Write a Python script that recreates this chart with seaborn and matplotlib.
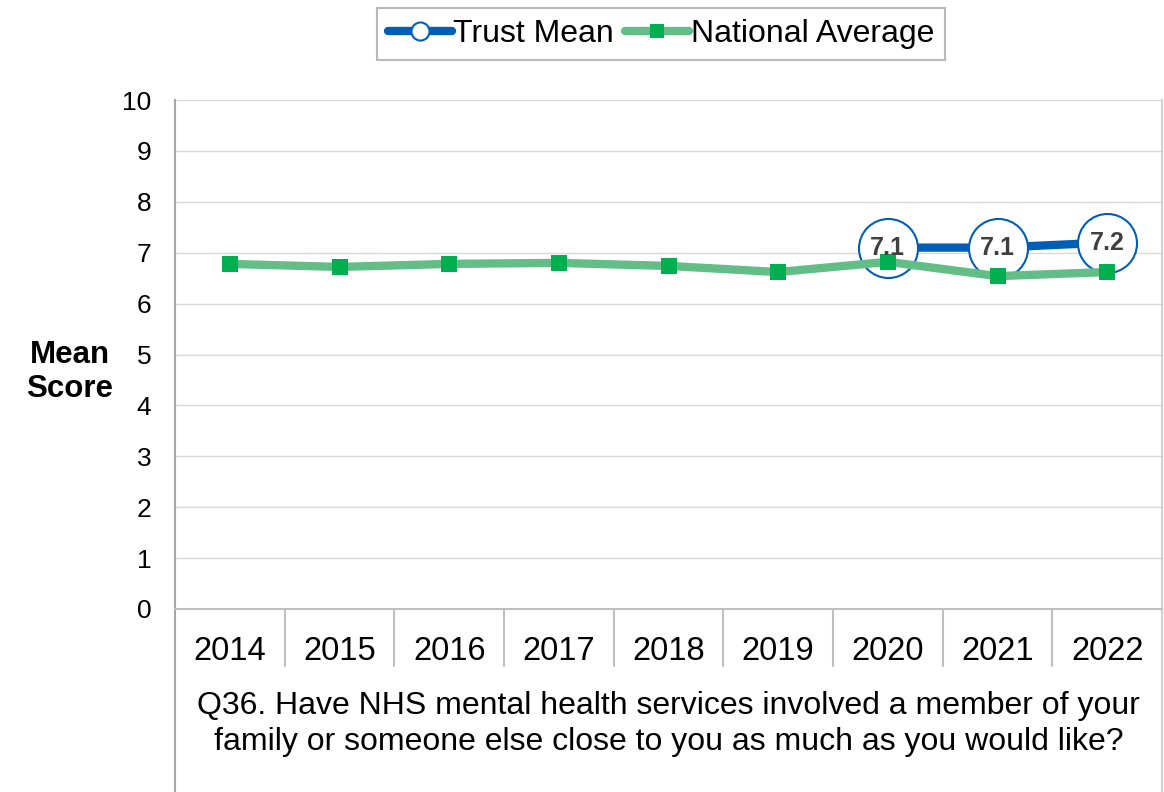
import matplotlib
matplotlib.use("Agg")
import matplotlib.pyplot as plt
from matplotlib.lines import Line2D
import matplotlib.transforms as mtransforms
import seaborn as sns
import pandas as pd

# Survey years and mean scores
years = ["2014", "2015", "2016", "2017", "2018", "2019", "2020", "2021", "2022"]
national_avg = [6.78, 6.72, 6.78, 6.80, 6.74, 6.62, 6.82, 6.54, 6.62]
trust_years = ["2020", "2021", "2022"]
trust_mean = [7.1, 7.1, 7.2]
y_ticks = list(range(0, 11))
question = ("Q36. Have NHS mental health services involved a member of your\n"
            "family or someone else close to you as much as you would like?")

BLUE = "#005EB8"
GREEN_LINE = "#62bd86"
GREEN_MARK = "#00b050"
GRID = "#d9d9d9"
FRAME = "#bfbfbf"

sns.set_theme(style="white")
plt.rcParams["font.family"] = ["Liberation Sans", "DejaVu Sans"]

W, H = 1164, 792
fig = plt.figure(figsize=(W / 100, H / 100), dpi=100)
fig.patch.set_facecolor("white")
left, right, top, bottom = 175, 1162, 100, 609
ax = fig.add_axes([left / W, 1 - bottom / H, (right - left) / W, (bottom - top) / H])

nat_df = pd.DataFrame({"pos": range(len(years)), "score": national_avg})
trust_df = pd.DataFrame({"pos": [years.index(y) for y in trust_years], "score": trust_mean})

sns.lineplot(data=trust_df, x="pos", y="score", ax=ax, color=BLUE, lw=6,
             marker="o", markersize=42.5, markerfacecolor="white",
             markeredgecolor=BLUE, markeredgewidth=1.5, zorder=3, legend=False)
sns.lineplot(data=nat_df, x="pos", y="score", ax=ax, color=GREEN_LINE, lw=6,
             marker="s", markersize=11, markerfacecolor=GREEN_MARK,
             markeredgecolor=GREEN_MARK, markeredgewidth=0, zorder=4, legend=False)

for p, v in zip(trust_df["pos"], trust_df["score"]):
    ax.text(p, v, f"{v:.1f}", ha="center", va="center", fontsize=18,
            fontweight="bold", color="#404040", zorder=6)

ax.set_xlim(-0.5, len(years) - 0.5)
ax.set_ylim(0, 10)
ax.set_yticks(y_ticks)
ax.set_yticklabels([str(t) for t in y_ticks], fontsize=19, color="black")
ax.set_xticks(range(len(years)))
ax.set_xticklabels(years, fontsize=23.5, color="black")
ax.tick_params(axis="y", length=0, pad=17)
ax.tick_params(axis="x", length=0, pad=19.5)
ax.set_xlabel("")
ax.set_ylabel("")
ax.yaxis.grid(True, color=GRID, lw=1)
ax.set_axisbelow(True)

ax.spines["top"].set_visible(False)
ax.spines["left"].set_color("#a6a6a6")
ax.spines["left"].set_linewidth(1.5)
ax.spines["right"].set_color("#d0d0d0")
ax.spines["right"].set_linewidth(1.5)
ax.spines["bottom"].set_color(FRAME)
ax.spines["bottom"].set_linewidth(1.5)

# Category separators below the axis and the frame continuing down
ext = (H - bottom) / (bottom - top)
sep = (666 - bottom) / (bottom - top)
trans = mtransforms.blended_transform_factory(ax.transData, ax.transAxes)
for k in range(1, len(years)):
    ax.plot([k - 0.5, k - 0.5], [0, -sep], transform=trans, color=FRAME,
            lw=1.5, clip_on=False)
ax.plot([0, 0], [0, -ext], transform=ax.transAxes, color="#a6a6a6", lw=1.5, clip_on=False)
ax.plot([1, 1], [0, -ext], transform=ax.transAxes, color="#d0d0d0", lw=1.5, clip_on=False)

ax.text(0.5, -(724 - bottom) / (bottom - top), question, transform=ax.transAxes,
        ha="center", va="center", fontsize=23.0, linespacing=1.24, color="black")

fig.text(70 / W, 1 - 372 / H, "Mean\nScore", ha="center", va="center",
         fontsize=22.5, fontweight="bold", linespacing=1.16, color="black")

handles = [
    Line2D([], [], color=BLUE, lw=6, marker="o", markersize=13,
           markerfacecolor="white", markeredgecolor=BLUE, markeredgewidth=1.5),
    Line2D([], [], color=GREEN_LINE, lw=6, marker="s", markersize=10,
           markerfacecolor=GREEN_MARK, markeredgecolor=GREEN_MARK, markeredgewidth=0),
]
leg = fig.legend(handles, ["Trust Mean", "National Average"], loc="center",
                 bbox_to_anchor=(661 / W, 1 - 34 / H), ncol=2, fontsize=23,
                 frameon=True, fancybox=False, handlelength=2.0,
                 handletextpad=0.05, columnspacing=0.35, borderpad=0.35,
                 borderaxespad=0, labelcolor="black")
leg.get_frame().set_edgecolor("#a6a6a6")
leg.get_frame().set_linewidth(1.5)

fig.savefig("out.png", dpi=100, facecolor="white")
